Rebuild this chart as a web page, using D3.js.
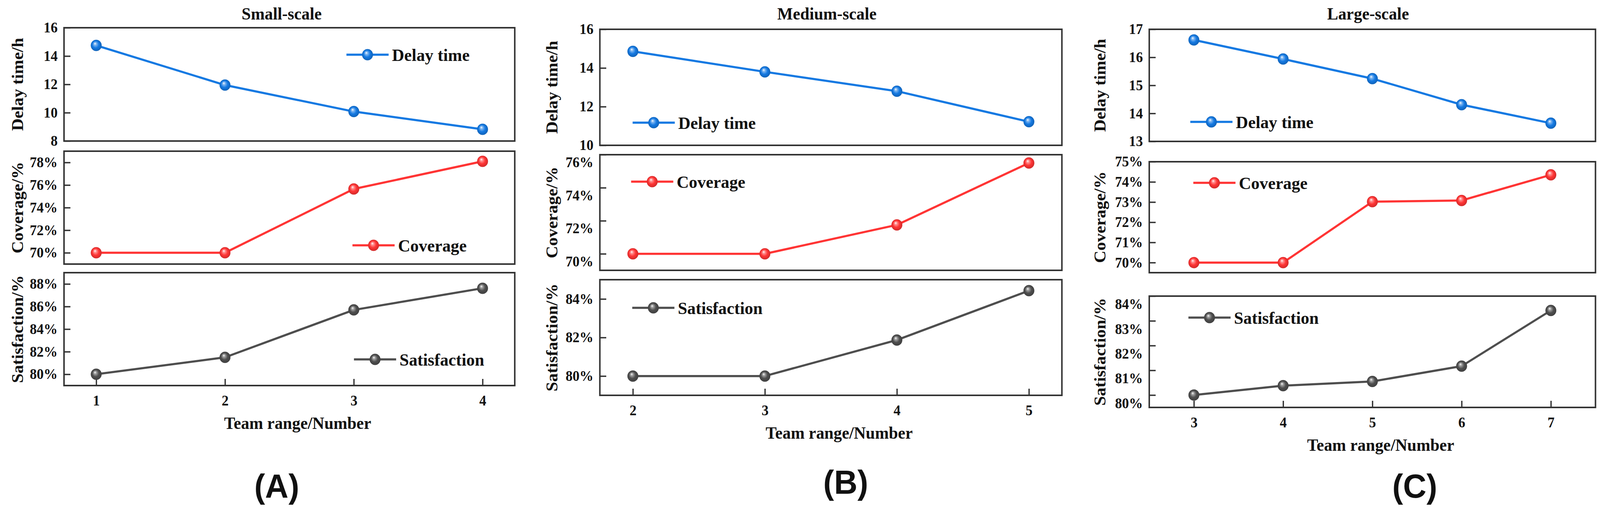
<!DOCTYPE html>
<html>
<head>
<meta charset="utf-8">
<script src="https://cdn.jsdelivr.net/npm/d3@7"></script>
<style>
  html, body { margin: 0; padding: 0; width: 100%; height: 100%; overflow: hidden; background: #fff; }
  svg { display: block; width: 100%; height: 100%; }
  text { font-family: "Liberation Serif", "Times New Roman", serif; font-weight: bold; fill: #111; }
</style>
</head>
<body>
<script>
// ---- data ----
var teamsA = [1, 2, 3, 4];
var delayA = [14.75, 11.95, 10.08, 8.83];
var coverageA = [70, 70, 75.65, 78.1];
var satisfactionA = [80, 81.5, 85.7, 87.62];
var delayTicksA = [8, 10, 12, 14, 16];
var coverageTicksA = [70, 72, 74, 76, 78];
var satisfactionTicksA = [80, 82, 84, 86, 88];

var teamsB = [2, 3, 4, 5];
var delayB = [14.86, 13.8, 12.8, 11.22];
var coverageB = [70, 70, 71.75, 75.5];
var satisfactionB = [80, 80, 81.87, 84.43];
var delayTicksB = [10, 12, 14, 16];
var coverageTicksB = [70, 72, 74, 76];
var satisfactionTicksB = [80, 82, 84];

var teamsC = [3, 4, 5, 6, 7];
var delayC = [16.62, 15.94, 15.24, 14.31, 13.65];
var coverageC = [70, 70, 73.02, 73.08, 74.35];
var satisfactionC = [80, 80.38, 80.55, 81.17, 83.42];
var delayTicksC = [13, 14, 15, 16, 17];
var coverageTicksC = [70, 71, 72, 73, 74, 75];
var satisfactionTicksC = [80, 81, 82, 83, 84];

var panelTitles = ['Small-scale', 'Medium-scale', 'Large-scale'];
var panelTags = ['(A)', '(B)', '(C)'];
var seriesNames = ['Delay time', 'Coverage', 'Satisfaction'];
var yTitles = ['Delay time/h', 'Coverage/%', 'Satisfaction/%'];
var xTitle = 'Team range/Number';

var colors = ['#1479e2', '#ff3434', '#4e4e4e'];

// ---- layout ----
var panels = [
  {
    teams: teamsA, series: [delayA, coverageA, satisfactionA],
    ticks: [delayTicksA, coverageTicksA, satisfactionTicksA],
    left: 170, right: 1367, xDomain: [0.75, 4.25],
    titleX: 748, tagX: 735, tagY: 1274, yTitleOff: 124,
    rows: [
      {top: 71, bottom: 361, domain: [8, 16], legend: [976, 140], shift: 0},
      {top: 387, bottom: 676, domain: [69, 79], legend: [992, 628], shift: 0},
      {top: 698, bottom: 987, domain: [79, 89], legend: [996, 920], shift: 0}
    ]
  },
  {
    teams: teamsB, series: [delayB, coverageB, satisfactionB],
    ticks: [delayTicksB, coverageTicksB, satisfactionTicksB],
    left: 1593, right: 2820, xDomain: [1.75, 5.25],
    titleX: 2196, tagX: 2246, tagY: 1264, yTitleOff: 128,
    rows: [
      {top: 75, bottom: 372, domain: [10, 16], legend: [1736, 314], shift: 0},
      {top: 396, bottom: 692, domain: [69, 76], legend: [1732, 465], shift: 20},
      {top: 716, bottom: 1012, domain: [79, 85], legend: [1735, 788], shift: 0}
    ]
  },
  {
    teams: teamsC, series: [delayC, coverageC, satisfactionC],
    ticks: [delayTicksC, coverageTicksC, satisfactionTicksC],
    left: 3052, right: 4237, xDomain: [2.5, 7.5],
    titleX: 3633, tagX: 3757, tagY: 1274, yTitleOff: 132,
    rows: [
      {top: 75, bottom: 362, domain: [13, 17], legend: [3217, 312], shift: 0},
      {top: 414, bottom: 698, domain: [69.5, 75], legend: [3225, 468], shift: 0},
      {top: 758, bottom: 1043, domain: [79.5, 84], legend: [3212, 813], shift: 21}
    ]
  }
];

var W = 4249, H = 1303;
var svg = d3.select('body').append('svg')
  .attr('viewBox', '0 0 ' + W + ' ' + H)
  .attr('preserveAspectRatio', 'none');

// sphere-like marker fills
var defs = svg.append('defs');
colors.forEach(function(c, i){
  var g = defs.append('radialGradient').attr('id', 'ball' + i)
    .attr('cx', '50%').attr('cy', '50%').attr('r', '55%')
    .attr('fx', '38%').attr('fy', '32%');
  g.append('stop').attr('offset', '0%').attr('stop-color', '#ffffff');
  g.append('stop').attr('offset', '22%').attr('stop-color', d3.interpolateRgb(c, '#fff')(0.45));
  g.append('stop').attr('offset', '55%').attr('stop-color', c);
  g.append('stop').attr('offset', '100%').attr('stop-color', d3.color(c).darker(0.7));
});

function drawMarker(sel, cx, cy, i){
  sel.append('circle').attr('cx', cx).attr('cy', cy).attr('r', 14.5)
    .attr('fill', 'url(#ball' + i + ')');
}

panels.forEach(function(p, pi){
  var g = svg.append('g');
  var x = d3.scaleLinear().domain(p.xDomain).range([p.left, p.right]);

  g.append('text').attr('x', p.titleX).attr('y', 50)
    .attr('text-anchor', 'middle').style('font-size', '44px')
    .text(panelTitles[pi]);

  p.rows.forEach(function(r, ri){
    var y = d3.scaleLinear().domain(r.domain).range([r.bottom, r.top]);
    var row = g.append('g');

    // y axis, inward ticks
    var ya = row.append('g').attr('transform', 'translate(' + p.left + ',0)')
      .call(d3.axisLeft(y).tickValues(p.ticks[ri]).tickSize(-17).tickPadding(17)
        .tickFormat(function(d){ return ri == 0 ? d : d + '%'; }));
    ya.select('.domain').remove();
    ya.selectAll('line').attr('stroke', '#333').attr('stroke-width', 3.5);
    ya.selectAll('text').style('font-size', '37px')
      .style('font-family', '"Liberation Serif", serif').style('font-weight', 'bold')
      .attr('fill', '#111')
      .attr('y', r.shift);

    // x axis only on bottom row
    if(ri == 2){
      var xa = row.append('g').attr('transform', 'translate(0,' + r.bottom + ')')
        .call(d3.axisBottom(x).tickValues(p.teams).tickSize(-17).tickPadding(25)
          .tickFormat(d3.format('d')));
      xa.select('.domain').remove();
      xa.selectAll('line').attr('stroke', '#333').attr('stroke-width', 3.5);
      xa.selectAll('text').style('font-size', '37px')
        .style('font-family', '"Liberation Serif", serif').style('font-weight', 'bold')
        .attr('fill', '#111');

      row.append('text')
        .attr('x', (p.left + p.right) / 2 + 22).attr('y', r.bottom + 111)
        .attr('text-anchor', 'middle').style('font-size', '44px')
        .text(xTitle);
    }

    // frame
    row.append('rect').attr('x', p.left).attr('y', r.top)
      .attr('width', p.right - p.left).attr('height', r.bottom - r.top)
      .attr('fill', 'none').attr('stroke', '#333').attr('stroke-width', 4);

    // y title
    var ty = (r.top + r.bottom) / 2;
    row.append('text')
      .attr('transform', 'translate(' + (p.left - p.yTitleOff) + ',' + ty + ') rotate(-90)')
      .attr('text-anchor', 'middle').attr('dy', '0.35em')
      .style('font-size', '44px')
      .text(yTitles[ri]);

    // series
    var vals = p.series[ri];
    var pts = p.teams.map(function(t, k){ return [t, vals[k]]; });
    var line = d3.line().x(function(d){ return x(d[0]); }).y(function(d){ return y(d[1]); });
    row.append('path').datum(pts).attr('d', line)
      .attr('fill', 'none').attr('stroke', colors[ri]).attr('stroke-width', 5.5)
      .attr('stroke-linejoin', 'round');
    pts.forEach(function(d){ drawMarker(row, x(d[0]), y(d[1]), ri); });

    // legend
    var lx = r.legend[0], ly = r.legend[1];
    row.append('line').attr('x1', lx - 56).attr('x2', lx + 56)
      .attr('y1', ly).attr('y2', ly)
      .attr('stroke', colors[ri]).attr('stroke-width', 5.5);
    drawMarker(row, lx, ly, ri);
    row.append('text').attr('x', lx + 65).attr('y', ly).attr('dy', '0.35em')
      .style('font-size', '45px').text(seriesNames[ri]);
  });

  g.append('text').attr('x', p.tagX).attr('y', p.tagY)
    .attr('text-anchor', 'middle')
    .style('font-family', '"Liberation Sans", Arial, sans-serif')
    .style('font-size', '86px').style('font-weight', 'bold')
    .text(panelTags[pi]);
});
</script>
</body>
</html>
